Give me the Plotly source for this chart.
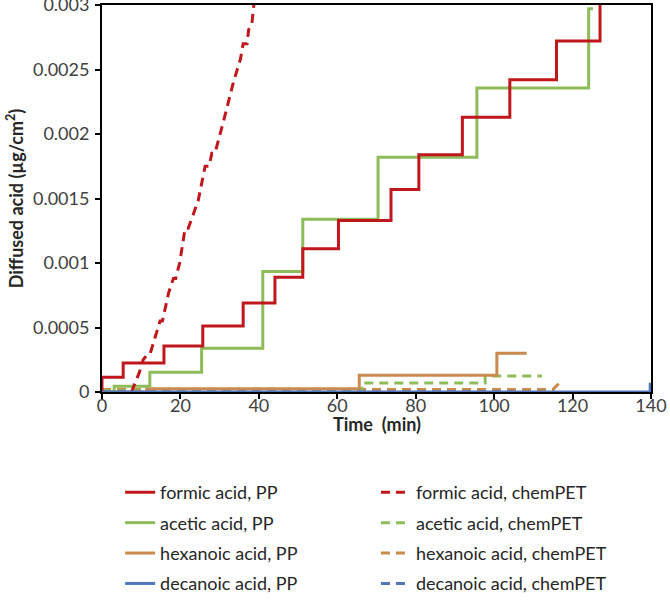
import plotly.graph_objects as go

# ---- data (time in min, diffused acid in µg/cm²) ----
formic_pp_t = [0, 0, 5.4, 15.8, 25.7, 36.0, 44.1, 51.2, 60.3, 73.7, 80.8, 91.9, 104.0, 115.9, 127.0]
formic_pp_v = [0, 0.000114, 0.000225, 0.000357, 0.000512, 0.00069, 0.00089, 0.00111, 0.00133,
               0.00157, 0.00184, 0.00213, 0.00242, 0.00272, 0.0031]

formic_chem_t = [7.5, 9.5, 10.5, 11.8, 12.3, 14.8, 15.4, 17.0, 18.2, 18.8, 19.8, 21.2, 22.0,
                 24.5, 26.3, 27.3, 28.0, 28.8, 31.0, 33.5, 35.3, 36.0, 37.0, 37.4, 38.2, 38.9]
formic_chem_v = [0, 0.00015, 0.00025, 0.00030, 0.00030, 0.00055, 0.00055, 0.00077, 0.00088,
                 0.00088, 0.00100, 0.00127, 0.00127, 0.00148, 0.00175, 0.00175, 0.00185,
                 0.00185, 0.0021, 0.0024, 0.00258, 0.00270, 0.00270, 0.00281, 0.00285, 0.00305]

acetic_pp_t = [0, 3.1, 12.2, 25.4, 41.0, 51.2, 70.4, 95.6, 124.1, 125.2]
acetic_pp_v = [0, 0.000045, 0.000153, 0.000339, 0.000935, 0.00134, 0.00182, 0.002356, 0.00297, 0.00297]

acetic_chem_t = [0, 66.3, 97.7, 112.2]
acetic_chem_v = [0.00001, 0.00007, 0.000124, 0.000124]

hexanoic_pp_t = [0, 11.4, 65.6, 100.7, 108.3]
hexanoic_pp_v = [0, 0.000025, 0.00013, 0.0003, 0.0003]

hexanoic_chem_t = [0, 115.0, 116.5, 117.3]
hexanoic_chem_v = [0.00002, 0.00002, 0.000065, 0.000065]

decanoic_pp_t = [0, 139.8, 140]
decanoic_pp_v = [0, 0.00006, 0.00006]

decanoic_chem_t = [0, 105]
decanoic_chem_v = [0, 0]

x_ticks = [0, 20, 40, 60, 80, 100, 120, 140]
y_ticks = [0, 0.0005, 0.001, 0.0015, 0.002, 0.0025, 0.003]
y_tick_labels = ["0", "0.0005", "0.001", "0.0015", "0.002", "0.0025", "0.003"]

RED = "#C0171C"
GREEN = "#8FBC5A"
ORANGE = "#CB8A4E"
BLUE = "#5275BC"
DASH = "9px,6px"
FONT = "Lato, 'Open Sans', sans-serif"

fig = go.Figure()


def add(name, t, v, color, dash, shape, legend, rank):
    fig.add_trace(go.Scatter(
        x=t, y=v, mode="lines", name=name,
        line=dict(color=color, width=3, dash=dash, shape=shape),
        legend=legend, legendgroup=name, legendrank=rank,
        hoverinfo="x+y+name",
    ))


# drawing order (bottom to top)
add("hexanoic acid, chemPET", hexanoic_chem_t, hexanoic_chem_v, ORANGE, DASH, "linear", "legend2", 3)
add("acetic acid, chemPET", acetic_chem_t, acetic_chem_v, GREEN, DASH, "hv", "legend2", 2)
add("hexanoic acid, PP", hexanoic_pp_t, hexanoic_pp_v, ORANGE, "solid", "hv", "legend", 3)
add("decanoic acid, chemPET", decanoic_chem_t, decanoic_chem_v, BLUE, DASH, "hv", "legend2", 4)
add("acetic acid, PP", acetic_pp_t, acetic_pp_v, GREEN, "solid", "hv", "legend", 2)
add("formic acid, PP", formic_pp_t, formic_pp_v, RED, "solid", "hv", "legend", 1)
add("formic acid, chemPET", formic_chem_t, formic_chem_v, RED, DASH, "linear", "legend2", 1)
add("decanoic acid, PP", decanoic_pp_t, decanoic_pp_v, BLUE, "solid", "hv", "legend", 4)

axis_common = dict(
    showline=True, linecolor="black", linewidth=2, mirror=True,
    ticks="outside", ticklen=5, tickwidth=1.5, tickcolor="black",
    showgrid=False, zeroline=False, ticklabeloverflow="allow",
    tickfont=dict(family=FONT, size=18, color="#404040"),
)

legend_common = dict(
    orientation="v", xanchor="left", yanchor="top",
    font=dict(family=FONT, size=18, color="#262626"),
    bgcolor="rgba(0,0,0,0)", tracegroupgap=4, traceorder="grouped",
)

fig.update_layout(
    width=670, height=606,
    margin=dict(l=102, r=19, t=5, b=214, autoexpand=False),
    paper_bgcolor="white", plot_bgcolor="white",
    font=dict(family=FONT, color="#262626"),
    xaxis=dict(
        range=[0, 140], tickvals=x_ticks, ticklabelstandoff=-9,
        **axis_common,
    ),
    yaxis=dict(
        range=[0, 0.003], tickvals=y_ticks, ticktext=y_tick_labels, ticklabelstandoff=2,
        title=dict(text="<b>Diffused acid (µg/cm<sup>2</sup>)</b>", font=dict(family=FONT, size=18, color="#262626"), standoff=5),
        **axis_common,
    ),
    annotations=[dict(
        text="<b>Time\u00a0 (min)</b>", xref="paper", yref="paper", x=0.5, y=-0.082,
        xanchor="center", yanchor="middle", showarrow=False,
        font=dict(family=FONT, size=18, color="#262626"),
    )],
    legend=dict(x=0.033, y=-0.212, **legend_common),
    legend2=dict(x=0.499, y=-0.212, **legend_common),
    showlegend=True,
)

fig.write_html(
    "out.html",
    config={"displayModeBar": False},
    post_script="document.body.style.margin='0';document.body.style.overflow='hidden';",
)
